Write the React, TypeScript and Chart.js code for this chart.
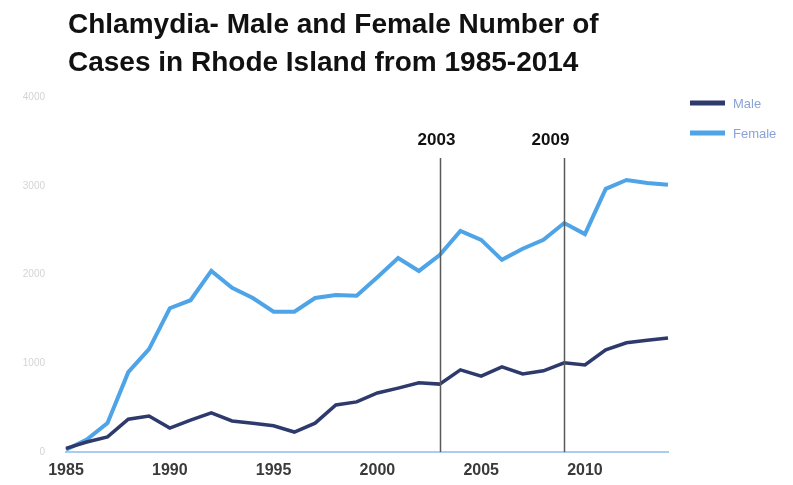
import React, { useEffect, useRef } from 'react';
import { Chart, registerables } from 'chart.js';

Chart.register(...registerables);

const titleLines = ['Chlamydia- Male and Female Number of', 'Cases in Rhode Island from 1985-2014'];
const years = [
  '1985', '1986', '1987', '1988', '1989', '1990', '1991', '1992', '1993', '1994',
  '1995', '1996', '1997', '1998', '1999', '2000', '2001', '2002', '2003', '2004',
  '2005', '2006', '2007', '2008', '2009', '2010', '2011', '2012', '2013', '2014',
];
const maleCases = [
  40, 113, 170, 370, 405, 270, 360, 440, 350, 325,
  295, 225, 325, 530, 565, 665, 720, 780, 765, 925,
  855, 960, 880, 915, 1005, 980, 1150, 1230, 1260, 1285,
];
const femaleCases = [
  25, 140, 327, 900, 1160, 1620, 1710, 2040, 1850, 1735,
  1580, 1580, 1735, 1770, 1760, 1970, 2185, 2040, 2220, 2490,
  2390, 2165, 2290, 2390, 2580, 2455, 2965, 3065, 3030, 3010,
];
const markerYears = ['2003', '2009'];
const markerLabelShift = [-4, -14];
const yMax = 4000;
const yStep = 1000;
const labelStep = 5;

const FONT = "'Liberation Sans', Arial, sans-serif";

const decorPlugin = {
  id: 'decor',
  afterDatasetsDraw(chart: any) {
    const { ctx, chartArea, scales } = chart;
    const x = scales.x;
    ctx.save();
    // vertical markers
    markerYears.forEach((yr, i) => {
      const idx = years.indexOf(yr);
      const px = Math.round(x.getPixelForValue(idx)) + 0.5;
      ctx.strokeStyle = '#5a5a5a';
      ctx.lineWidth = 1.5;
      ctx.beginPath();
      ctx.moveTo(px, chartArea.top + 61);
      ctx.lineTo(px, chartArea.bottom);
      ctx.stroke();
      ctx.fillStyle = '#111';
      ctx.font = `bold 17px ${FONT}`;
      ctx.textAlign = 'center';
      ctx.textBaseline = 'middle';
      ctx.fillText(yr, px + markerLabelShift[i], chartArea.top + 43);
    });
    // title
    ctx.fillStyle = '#111';
    ctx.font = `bold 28px ${FONT}`;
    ctx.textAlign = 'left';
    ctx.textBaseline = 'middle';
    titleLines.forEach((t, i) => ctx.fillText(t, 68, 25 + i * 38));
    // legend
    const ds = chart.data.datasets;
    ds.forEach((d: any, i: number) => {
      const y = 103 + i * 30;
      ctx.strokeStyle = d.borderColor;
      ctx.lineWidth = 5;
      ctx.beginPath();
      ctx.moveTo(690, y);
      ctx.lineTo(725, y);
      ctx.stroke();
      ctx.fillStyle = '#8aa3d6';
      ctx.font = `13px ${FONT}`;
      ctx.textAlign = 'left';
      ctx.textBaseline = 'middle';
      ctx.fillText(d.label, 733, y + 1);
    });
    ctx.restore();
  },
};

export default function App() {
  const ref = useRef<HTMLCanvasElement | null>(null);
  useEffect(() => {
    if (!ref.current) return;
    const chart = new Chart(ref.current, {
      type: 'line',
      data: {
        labels: years,
        datasets: [
          {
            label: 'Male',
            data: maleCases,
            borderColor: '#2f3a6c',
            backgroundColor: '#2f3a6c',
            borderWidth: 3.5,
            pointRadius: 0,
            tension: 0,
          },
          {
            label: 'Female',
            data: femaleCases,
            borderColor: '#4ea4e6',
            backgroundColor: '#4ea4e6',
            borderWidth: 4,
            pointRadius: 0,
            tension: 0,
          },
        ],
      },
      options: {
        responsive: false,
        animation: false,
        layout: { padding: { top: 97, right: 125, left: 0, bottom: 0 } },
        plugins: { legend: { display: false }, title: { display: false }, tooltip: { enabled: false } },
        scales: {
          x: {
            type: 'category',
            offset: false,
            grid: { display: false, drawTicks: false },
            border: { display: true, color: '#a8cdf0', width: 2 },
            afterFit: (s: any) => { s.height = 33; },
            ticks: {
              autoSkip: false,
              maxRotation: 0,
              padding: 9,
              color: '#3a3a3a',
              font: { family: FONT, size: 16, weight: 'bold' },
              callback: (_v: any, i: number) => (Number(years[i]) % labelStep === 0 ? years[i] : ''),
            },
          },
          y: {
            min: 0,
            max: yMax,
            grid: { display: false, drawTicks: false },
            border: { display: false },
            afterFit: (s: any) => { s.width = 66; },
            ticks: {
              stepSize: yStep,
              padding: 21,
              color: '#d4d4d4',
              font: { family: FONT, size: 10 },
              callback: (v: any) => String(v),
            },
          },
        },
      },
      plugins: [decorPlugin],
    });
    return () => chart.destroy();
  }, []);
  return (
    <div style={{ position: 'fixed', left: 0, top: 0, width: 793, height: 485, background: '#fff' }}>
      <canvas ref={ref} width={793} height={485} style={{ display: 'block' }} />
    </div>
  );
}
